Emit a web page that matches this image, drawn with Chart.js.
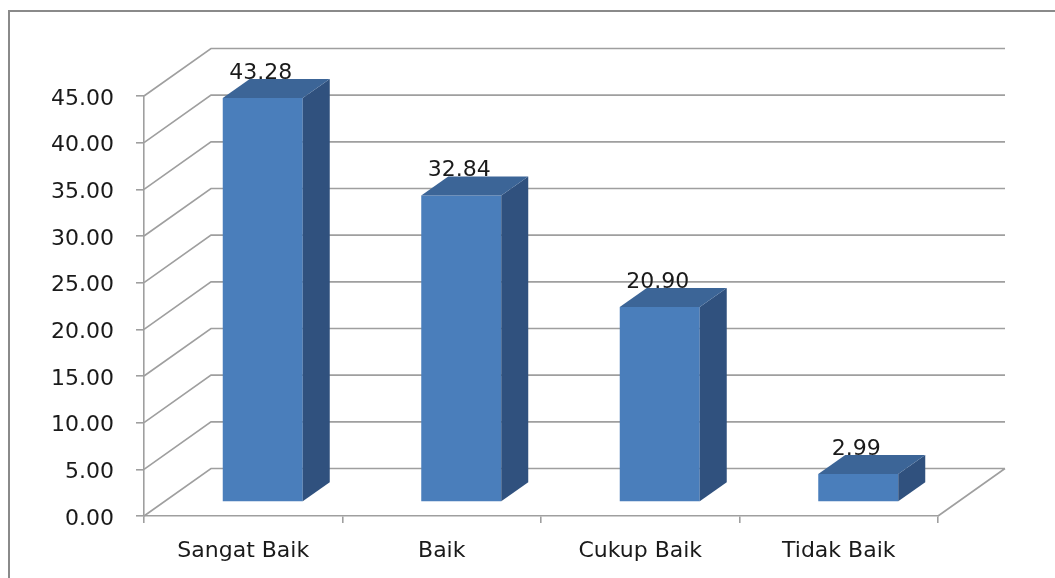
<!DOCTYPE html>
<html>
<head>
<meta charset="utf-8">
<script src="https://cdn.jsdelivr.net/npm/chart.js@4.4.1/dist/chart.umd.min.js"></script>
<style>
  html, body { margin: 0; padding: 0; background: #fff; }
  #wrap { width: 1055px; height: 578px; }
</style>
</head>
<body>
<div id="wrap"><canvas id="grafik"></canvas></div>
<script>
// Data
var kategori = ['Sangat Baik', 'Baik', 'Cukup Baik', 'Tidak Baik'];
var nilai = [43.28, 32.84, 20.90, 2.99];
var labelNilai = ['43.28', '32.84', '20.90', '2.99'];

// Efek 3D: kedalaman dinding belakang dan posisi batang
var DALAM = { x: 67, y: -47.5 };     // dinding belakang
var DEPAN = { x: 19.5, y: -14 };     // muka depan batang
var TEBAL = { x: 27, y: -19 };       // tebal batang

var WARNA_DEPAN = '#4a7ebb';
var WARNA_ATAS = '#3c6597';
var WARNA_SISI = '#30517e';
var WARNA_GRID = '#9f9f9f';
var FONT = 'DejaVu Sans';

var plugin3D = {
  id: 'efek3d',
  beforeDraw: function(chart) {
    var ctx = chart.ctx;
    ctx.save();
    ctx.fillStyle = '#fff';
    ctx.fillRect(0, 0, chart.width, chart.height);
    ctx.strokeStyle = '#8a8a8a';
    ctx.lineWidth = 2;
    ctx.strokeRect(9, 11, chart.width + 20, chart.height + 20);
    ctx.restore();
  },
  beforeDatasetsDraw: function(chart) {
    var ctx = chart.ctx;
    var a = chart.chartArea;
    var y = chart.scales.y;
    ctx.save();
    ctx.strokeStyle = WARNA_GRID;
    ctx.lineWidth = 1.6;
    ctx.beginPath();
    y.ticks.forEach(function(t) {
      var py = y.getPixelForValue(t.value);
      ctx.moveTo(a.left, py);
      ctx.lineTo(a.left + DALAM.x, py + DALAM.y);
      ctx.lineTo(a.right + DALAM.x, py + DALAM.y);
    });
    // sisi kanan lantai
    ctx.moveTo(a.right, a.bottom);
    ctx.lineTo(a.right + DALAM.x, a.bottom + DALAM.y);
    ctx.stroke();
    ctx.restore();

    // geser muka depan batang ke tengah kedalaman
    ctx.save();
    ctx.translate(DEPAN.x, DEPAN.y);
  },
  afterDatasetsDraw: function(chart) {
    var ctx = chart.ctx;
    ctx.restore();
    var meta = chart.getDatasetMeta(0);
    ctx.save();
    meta.data.forEach(function(bar, i) {
      var kiri = bar.x - bar.width / 2 + DEPAN.x;
      var kanan = bar.x + bar.width / 2 + DEPAN.x;
      var atas = bar.y + DEPAN.y;
      var bawah = bar.base + DEPAN.y;

      // sisi kanan
      ctx.fillStyle = WARNA_SISI;
      ctx.beginPath();
      ctx.moveTo(kanan, atas);
      ctx.lineTo(kanan + TEBAL.x, atas + TEBAL.y);
      ctx.lineTo(kanan + TEBAL.x, bawah + TEBAL.y);
      ctx.lineTo(kanan, bawah);
      ctx.closePath();
      ctx.fill();

      // atas
      ctx.fillStyle = WARNA_ATAS;
      ctx.beginPath();
      ctx.moveTo(kiri, atas);
      ctx.lineTo(kiri + TEBAL.x, atas + TEBAL.y);
      ctx.lineTo(kanan + TEBAL.x, atas + TEBAL.y);
      ctx.lineTo(kanan, atas);
      ctx.closePath();
      ctx.fill();

      // label nilai
      ctx.fillStyle = '#1a1a1a';
      ctx.font = '22px "' + FONT + '"';
      ctx.textAlign = 'center';
      ctx.textBaseline = 'middle';
      ctx.fillText(labelNilai[i], (kiri + kanan) / 2 - 2, atas - 25);
    });
    ctx.restore();
  }
};

new Chart(document.getElementById('grafik'), {
  type: 'bar',
  data: {
    labels: kategori,
    datasets: [{
      data: nilai,
      backgroundColor: WARNA_DEPAN,
      borderWidth: 0,
      barPercentage: 1,
      categoryPercentage: 0.403,
      clip: false
    }]
  },
  options: {
    responsive: true,
    maintainAspectRatio: false,
    animation: false,
    layout: {
      padding: { top: 96, right: 117, bottom: 0, left: 0 }
    },
    plugins: {
      legend: { display: false },
      tooltip: { enabled: false }
    },
    scales: {
      x: {
        grid: { drawOnChartArea: false, tickLength: 7, color: WARNA_GRID, lineWidth: 1.6 },
        border: { display: true, color: WARNA_GRID, width: 1.6 },
        ticks: {
          padding: 15,
          color: '#1a1a1a',
          font: { family: FONT, size: 22 }
        },
        afterFit: function(scale) { scale.height = 62; }
      },
      y: {
        min: 0,
        max: 45,
        ticks: {
          stepSize: 5,
          padding: 22,
          labelOffset: 3,
          color: '#1a1a1a',
          font: { family: FONT, size: 22 },
          callback: function(v) { return v.toFixed(2); }
        },
        grid: { drawOnChartArea: false, tickLength: 8, color: WARNA_GRID, lineWidth: 1.6 },
        border: { display: true, color: WARNA_GRID, width: 1.6 },
        afterFit: function(scale) { scale.width = 144; }
      }
    }
  },
  plugins: [plugin3D]
});
</script>
</body>
</html>
